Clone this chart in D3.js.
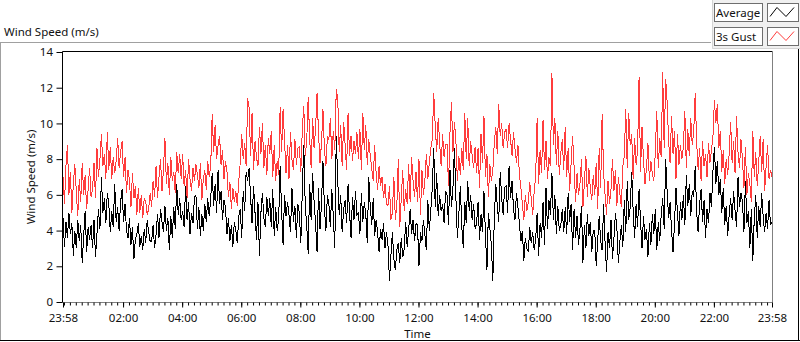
<!DOCTYPE html>
<html>
<head>
<meta charset="utf-8">
<script src="https://cdn.jsdelivr.net/npm/d3@7"></script>
<style>
  body { margin: 0; background: #fff; }
  svg { display: block; font-family: "Noto Sans", sans-serif; }
</style>
</head>
<body>
<svg id="chart" width="800" height="342"></svg>
<script>
// Samples every 3 minutes, from 23:58 to 23:58 next day
const startTime = new Date(2000, 0, 1, 23, 58);
const endTime = new Date(2000, 0, 2, 23, 58);
const stepMinutes = 3;

// Average wind speed (m/s), one row per hour
const avgSpeed = [
  4.7, 3.1, 4.5, 3.6, 5.0, 3.8, 4.4, 2.6, 4.0, 3.0, 4.6, 3.4, 4.3, 2.2, 3.7, 5.1, 2.8, 4.2, 3.5, 4.3,
  3.0, 4.6, 2.5, 3.8, 5.2, 4.1, 7.0, 5.0, 5.8, 4.4, 6.1, 5.5, 3.9, 5.1, 4.2, 6.6, 4.5, 5.3, 4.0, 5.6,
  6.3, 4.5, 5.5, 4.0, 3.6, 4.7, 3.2, 4.2, 2.4, 3.5, 3.8, 4.4, 3.1, 3.7, 2.9, 4.1, 3.3, 4.6, 3.9, 3.4,
  3.4, 4.3, 3.0, 3.8, 4.9, 3.6, 5.2, 4.5, 3.9, 5.4, 4.0, 4.7, 2.9, 4.8, 3.6, 5.3, 4.1, 6.6, 4.9, 5.8,
  4.6, 5.1, 4.2, 6.5, 4.6, 5.6, 3.8, 5.0, 4.4, 5.9, 6.0, 4.1, 5.3, 3.7, 4.9, 4.0, 5.5, 4.5, 5.8, 4.8,
  5.8, 7.2, 5.4, 6.6, 5.0, 7.4, 5.5, 6.2, 4.6, 5.7, 5.3, 3.8, 4.7, 3.4, 4.3, 3.1, 4.5, 4.0, 3.3, 4.8,
  5.2, 3.6, 6.2, 5.1, 7.3, 6.8, 7.5, 5.9, 4.4, 6.5, 5.0, 3.5, 5.6, 2.6, 5.0, 6.1, 4.7, 4.2, 5.9, 4.8,
  5.8, 4.2, 6.3, 3.7, 5.3, 4.0, 4.6, 7.6, 5.1, 3.2, 6.0, 4.8, 5.6, 4.9, 3.9, 6.4, 4.5, 5.4, 3.6, 5.5,
  5.0, 3.3, 6.2, 8.8, 5.4, 4.3, 2.7, 6.6, 4.6, 7.2, 5.6, 4.4, 2.8, 6.4, 4.1, 5.5, 7.9, 5.2, 4.0, 6.0,
  5.5, 4.2, 6.3, 4.8, 3.0, 9.3, 6.8, 4.9, 6.0, 3.9, 5.2, 5.7, 4.4, 6.6, 5.0, 3.6, 5.9, 4.6, 6.2, 4.9,
  5.0, 3.8, 6.1, 4.5, 5.6, 4.9, 3.3, 7.0, 5.4, 4.3, 5.8, 3.7, 4.6, 3.9, 2.8, 4.1, 3.5, 4.4, 3.0, 3.9,
  3.2, 1.2, 2.6, 3.9, 2.4, 1.8, 2.9, 3.3, 2.2, 3.6, 2.5, 3.0, 4.5, 3.1, 4.0, 5.2, 3.8, 4.6, 3.4, 4.4,
  4.3, 2.0, 3.9, 3.4, 4.6, 3.8, 2.9, 5.7, 4.0, 5.1, 6.4, 8.6, 5.3, 7.2, 4.8, 6.0, 5.1, 5.5, 4.4, 6.2,
  6.0, 4.3, 7.4, 5.3, 6.4, 8.6, 5.8, 3.6, 4.9, 6.5, 4.2, 3.0, 5.6, 4.4, 6.8, 5.1, 6.0, 4.6, 5.5, 4.1,
  4.4, 5.6, 3.5, 4.9, 3.9, 6.2, 3.8, 1.8, 5.0, 4.1, 3.2, 1.2, 4.7, 6.6, 5.4, 4.5, 7.3, 5.8, 4.9, 6.4,
  6.5, 5.0, 7.6, 5.8, 6.8, 5.2, 4.6, 6.1, 5.3, 4.4, 3.4, 4.0, 2.3, 3.6, 3.0, 2.8, 4.2, 3.3, 3.9, 2.9,
  3.5, 5.0, 2.6, 4.4, 3.6, 5.6, 3.2, 6.4, 4.1, 5.7, 4.9, 7.2, 4.6, 6.0, 3.8, 5.4, 4.0, 4.3, 5.2, 3.9,
  5.3, 3.8, 6.1, 4.5, 5.5, 2.9, 5.2, 3.6, 4.8, 3.2, 4.1, 5.4, 2.2, 4.3, 3.0, 4.9, 3.7, 4.5, 2.8, 4.0,
  4.0, 2.0, 3.5, 4.8, 3.4, 2.9, 5.5, 3.3, 1.7, 3.9, 3.0, 4.6, 2.4, 3.6, 5.0, 4.1, 2.2, 3.4, 4.3, 3.1,
  5.7, 3.9, 6.8, 4.6, 5.3, 7.3, 5.1, 3.6, 5.5, 4.2, 6.3, 4.5, 3.0, 4.8, 3.5, 4.1, 2.5, 4.4, 3.2, 4.9,
  3.8, 5.2, 2.9, 4.5, 3.4, 4.9, 5.8, 4.1, 8.0, 6.2, 4.7, 5.6, 4.0, 2.8, 4.4, 6.4, 5.0, 3.7, 5.6, 4.6,
  6.0, 4.3, 7.1, 5.4, 6.6, 4.8, 6.2, 5.9, 7.6, 5.0, 3.9, 5.5, 6.3, 4.5, 5.7, 3.6, 5.2, 4.4, 6.1, 5.3,
  7.3, 8.7, 6.6, 7.9, 6.0, 6.9, 5.0, 6.4, 4.3, 5.4, 3.7, 4.9, 5.8, 4.6, 6.2, 5.1, 4.2, 7.0, 5.3, 6.1,
  5.6, 3.9, 6.8, 4.4, 5.1, 3.0, 5.2, 2.3, 4.7, 6.0, 3.6, 5.4, 4.2, 6.1, 4.8, 3.9, 5.0, 4.1, 5.7, 4.3,
  4.5
];

// 3 second gust (m/s), one row per hour
const gustSpeed = [
  7.0, 5.5, 7.6, 8.8, 6.0, 7.3, 5.0, 6.6, 7.7, 6.2, 4.8, 6.9, 5.6, 7.8, 6.0, 7.1, 5.2, 6.3, 7.5, 5.9,
  6.3, 7.8, 5.8, 8.6, 7.0, 8.0, 9.4, 7.6, 8.3, 6.9, 9.5, 7.4, 8.7, 6.9, 8.1, 7.2, 7.9, 9.2, 7.5, 8.4,
  9.0, 7.0, 8.1, 6.1, 7.4, 6.8, 5.3, 7.2, 5.8, 6.5, 4.9, 6.4, 5.0, 6.0, 4.7, 5.8, 5.6, 4.9, 5.2, 6.1,
  5.3, 6.8, 5.9, 7.6, 5.8, 7.0, 8.0, 6.2, 7.4, 9.2, 6.6, 7.8, 6.0, 8.1, 6.8, 7.3, 6.1, 8.4, 7.2, 8.3,
  6.9, 8.3, 6.5, 7.4, 5.8, 8.0, 6.9, 6.2, 7.5, 6.8, 7.7, 7.1, 6.4, 7.8, 5.7, 6.9, 7.4, 6.3, 7.9, 7.0,
  7.6, 10.5, 8.4, 9.9, 8.0, 8.8, 9.3, 7.7, 8.5, 6.9, 7.9, 7.3, 5.9, 6.7, 5.2, 6.4, 5.6, 6.2, 5.4, 6.8,
  7.8, 9.4, 8.0, 8.9, 7.6, 11.4, 10.9, 8.2, 10.6, 7.4, 9.0, 8.1, 7.6, 9.8, 8.3, 10.0, 7.5, 8.8, 7.1, 9.2,
  8.3, 9.6, 7.0, 8.8, 6.8, 7.9, 7.1, 10.9, 8.4, 10.8, 9.0, 7.2, 8.8, 6.9, 9.5, 8.0, 7.4, 9.1, 7.7, 8.6,
  8.7, 7.3, 9.6, 11.0, 8.2, 9.0, 11.5, 9.2, 7.5, 10.3, 8.6, 9.7, 11.7, 9.4, 7.8, 8.9, 10.8, 8.5, 7.6, 9.3,
  9.1, 10.3, 8.0, 9.6, 8.5, 11.9, 11.4, 8.4, 9.9, 7.6, 10.1, 8.8, 7.4, 10.6, 8.2, 9.3, 7.9, 9.0, 8.3, 9.5,
  8.0, 9.7, 7.4, 10.6, 8.5, 9.9, 7.7, 9.1, 8.2, 7.5, 6.8, 8.8, 7.2, 6.3, 7.6, 6.5, 7.0, 5.8, 6.6, 5.5,
  5.4, 6.5, 4.6, 5.0, 7.0, 4.6, 5.4, 8.0, 4.2, 5.8, 7.4, 5.1, 6.3, 5.5, 7.7, 5.6, 8.1, 6.8, 5.9, 7.3,
  5.6, 8.0, 4.9, 7.4, 6.0, 6.8, 8.3, 6.9, 7.8, 8.6, 9.1, 11.7, 9.9, 8.4, 10.3, 8.9, 7.6, 9.4, 8.1, 8.8,
  8.8, 6.5, 9.5, 11.2, 8.4, 10.1, 9.0, 6.8, 8.2, 7.1, 8.6, 7.4, 10.6, 8.0, 10.3, 7.6, 9.0, 8.2, 7.5, 8.7,
  7.2, 8.6, 6.4, 9.4, 7.8, 10.4, 7.0, 8.3, 5.9, 7.7, 6.8, 7.4, 8.9, 9.8, 8.3, 11.1, 9.3, 10.0, 8.6, 9.5,
  9.7, 8.6, 10.0, 9.1, 8.2, 9.5, 8.6, 7.8, 8.8, 7.1, 6.4, 5.5, 4.6, 6.0, 5.1, 5.6, 6.7, 5.8, 4.9, 6.2,
  7.0, 10.3, 6.6, 8.5, 7.2, 10.2, 7.4, 9.0, 6.9, 8.1, 7.6, 12.8, 8.8, 10.3, 7.7, 9.6, 7.1, 8.3, 9.1, 7.4,
  9.8, 7.0, 8.6, 6.2, 7.8, 9.3, 7.6, 5.6, 7.2, 6.0, 6.6, 8.0, 5.3, 6.7, 8.2, 5.9, 7.5, 6.4, 5.7, 7.1,
  6.0, 7.8, 5.2, 8.6, 6.4, 10.5, 7.2, 6.0, 4.9, 6.8, 5.5, 6.3, 8.0, 6.2, 7.4, 5.4, 7.0, 6.1, 5.3, 7.6,
  8.2, 10.8, 7.5, 10.6, 8.8, 9.4, 6.9, 9.2, 7.7, 8.5, 12.6, 7.3, 9.8, 8.0, 6.6, 7.5, 8.9, 6.8, 7.9, 7.2,
  6.8, 8.4, 10.7, 7.5, 9.2, 8.1, 12.9, 8.6, 12.5, 11.2, 9.0, 7.8, 10.4, 8.3, 9.6, 6.9, 9.4, 7.7, 8.8, 8.0,
  8.7, 10.7, 7.5, 9.7, 8.2, 10.3, 8.8, 9.5, 11.7, 8.9, 7.4, 8.6, 6.8, 9.0, 7.6, 8.3, 7.0, 8.9, 7.8, 8.5,
  9.2, 11.3, 10.0, 11.1, 8.6, 9.6, 7.3, 8.5, 6.6, 8.0, 7.1, 8.3, 10.1, 7.8, 9.0, 7.2, 10.4, 8.4, 7.5, 9.1,
  8.0, 6.4, 8.7, 6.0, 7.2, 6.6, 5.6, 9.6, 7.0, 8.4, 6.5, 7.8, 9.3, 7.3, 9.1, 6.2, 7.6, 8.8, 6.9, 7.4,
  7.0
];

const yTicks = [0, 2, 4, 6, 8, 10, 12, 14];
const xTickLabels = ["23:58", "02:00", "04:00", "06:00", "08:00", "10:00", "12:00",
                     "14:00", "16:00", "18:00", "20:00", "22:00", "23:58"];
const legendNames = ["Average", "3s Gust"];
const seriesColors = ["#000000", "#ff3c3c"];

const svg = d3.select("#chart");

// plot area
const plot = { left: 63, right: 772, top: 52, bottom: 302 };

const x = d3.scaleTime().domain([startTime, endTime]).range([plot.left, plot.right]);
const y = d3.scaleLinear().domain([0, 14]).range([plot.bottom, plot.top]);

const times = avgSpeed.map((v, i) => d3.timeMinute.offset(startTime, i * stepMinutes));

// major tick dates from the labels
const majorTicks = xTickLabels.map((s, i) => {
  if (i === 0) return startTime;
  if (i === xTickLabels.length - 1) return endTime;
  const [h, m] = s.split(":").map(Number);
  return new Date(2000, 0, 2, h, m);
});

// outer frame
svg.append("line").attr("x1", 0.5).attr("x2", 0.5).attr("y1", 42.5).attr("y2", 341)
  .attr("stroke", "#a0a0a0");
svg.append("line").attr("x1", 0).attr("x2", 711).attr("y1", 42.5).attr("y2", 42.5)
  .attr("stroke", "#a0a0a0");
svg.append("line").attr("x1", 0).attr("x2", 800).attr("y1", 340.5).attr("y2", 340.5)
  .attr("stroke", "#000");
svg.append("line").attr("x1", 798.5).attr("x2", 798.5).attr("y1", 49).attr("y2", 341)
  .attr("stroke", "#000");

// title
svg.append("text").attr("x", 4).attr("y", 36)
  .attr("font-size", 11.5).attr("fill", "#111")
  .text("Wind Speed (m/s)");

// series lines, gust below average
const line = d3.line()
  .x((d, i) => x(times[i]))
  .y(d => y(d));

svg.append("path").datum(gustSpeed)
  .attr("d", line)
  .attr("fill", "none")
  .attr("stroke", seriesColors[1])
  .attr("stroke-width", 1)
  .attr("shape-rendering", "crispEdges");

svg.append("path").datum(avgSpeed)
  .attr("d", line)
  .attr("fill", "none")
  .attr("stroke", seriesColors[0])
  .attr("stroke-width", 1)
  .attr("shape-rendering", "crispEdges");

// plot frame
svg.append("path")
  .attr("d", `M${plot.left - 0.5},${plot.bottom + 0.5}V${plot.top - 0.5}H${plot.right + 0.5}`)
  .attr("fill", "none").attr("stroke", "#000");
svg.append("path")
  .attr("d", `M${plot.right + 0.5},${plot.top - 0.5}V${plot.bottom + 0.5}H${plot.left - 0.5}`)
  .attr("fill", "none").attr("stroke", "#808080");

// y axis
const yAxis = svg.append("g")
  .attr("transform", `translate(${plot.left - 0.5},0)`)
  .call(d3.axisLeft(y).tickValues(yTicks).tickSize(6).tickPadding(3.5));
yAxis.select(".domain").remove();
yAxis.selectAll("line").attr("stroke", "#000");
yAxis.selectAll("text")
  .attr("font-size", 11.5).attr("font-family", "Noto Sans").attr("fill", "#111");

// x axis, minor ticks every 12 minutes
const xMinor = svg.append("g")
  .attr("transform", `translate(0,${plot.bottom + 0.5})`)
  .call(d3.axisBottom(x).ticks(d3.timeMinute.every(12)).tickSize(3).tickFormat(""));
xMinor.select(".domain").remove();
xMinor.selectAll("line").attr("stroke", "#000");

const xAxis = svg.append("g")
  .attr("transform", `translate(0,${plot.bottom + 0.5})`)
  .call(d3.axisBottom(x).tickValues(majorTicks).tickSize(5).tickPadding(6)
    .tickFormat((d, i) => xTickLabels[i]));
xAxis.select(".domain").remove();
xAxis.selectAll("line").attr("stroke", "#000");
xAxis.selectAll("text")
  .attr("font-size", 11.5).attr("font-family", "Noto Sans").attr("fill", "#111");

// axis titles
svg.append("text")
  .attr("x", (plot.left + plot.right) / 2).attr("y", 338)
  .attr("text-anchor", "middle")
  .attr("font-size", 11.5).attr("fill", "#111")
  .text("Time");

svg.append("text")
  .attr("transform", `translate(35,${(plot.top + plot.bottom) / 2}) rotate(-90)`)
  .attr("text-anchor", "middle")
  .attr("font-size", 11.5).attr("fill", "#111")
  .text("Wind Speed (m/s)");

// legend panel
const legend = svg.append("g");
legend.append("rect").attr("x", 712).attr("y", 0).attr("width", 88).attr("height", 49)
  .attr("fill", "#f0f0f0");
legend.append("path").attr("d", "M712.5,0V48.5H800")
  .attr("fill", "none").attr("stroke", "#d4d4d4");

legendNames.forEach((name, i) => {
  const top = 3.5 + i * 24;
  legend.append("rect").attr("x", 714.5).attr("y", top).attr("width", 48).attr("height", 18)
    .attr("fill", "#fff").attr("stroke", "#6e6e6e");
  legend.append("text").attr("x", 716).attr("y", top + 13.5)
    .attr("font-size", 11.5).attr("fill", "#111")
    .text(name);
  legend.append("rect").attr("x", 767.5).attr("y", top).attr("width", 31).attr("height", 18)
    .attr("fill", "#fff").attr("stroke", "#6e6e6e");
  legend.append("path")
    .attr("d", `M770,${top + 13}L777,${top + 4}L786,${top + 13}L794,${top + 4}`)
    .attr("fill", "none").attr("stroke", seriesColors[i]);
});
</script>
</body>
</html>
